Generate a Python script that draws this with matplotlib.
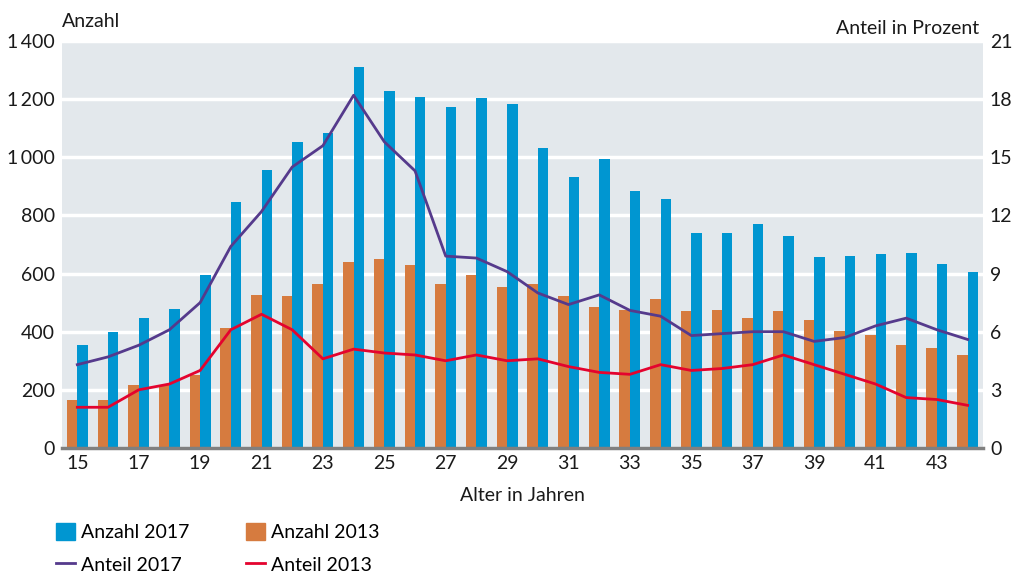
import matplotlib
matplotlib.use("Agg")
import matplotlib.pyplot as plt
from matplotlib.lines import Line2D
from matplotlib.patches import Patch
import numpy as np

plt.rcParams['font.family'] = ['Lato', 'DejaVu Sans']

ages = list(range(15, 45))
anzahl_2017 = [355, 400, 448, 478, 595, 845, 958, 1052, 1082, 1310, 1228, 1207, 1172, 1203, 1183,
               1033, 932, 995, 884, 857, 740, 740, 770, 730, 657, 662, 668, 671, 633, 606]
anzahl_2013 = [165, 165, 217, 215, 251, 414, 527, 523, 565, 640, 650, 630, 565, 595, 555,
               565, 523, 485, 475, 513, 472, 475, 448, 472, 441, 403, 390, 355, 345, 320]
anteil_2017 = [4.3, 4.7, 5.3, 6.1, 7.5, 10.4, 12.2, 14.5, 15.6, 18.2, 15.8, 14.3, 9.9, 9.8, 9.1,
               8.0, 7.4, 7.9, 7.1, 6.8, 5.8, 5.9, 6.0, 6.0, 5.5, 5.7, 6.3, 6.7, 6.1, 5.6]
anteil_2013 = [2.1, 2.1, 3.0, 3.3, 4.0, 6.1, 6.9, 6.1, 4.6, 5.1, 4.9, 4.8, 4.5, 4.8, 4.5,
               4.6, 4.2, 3.9, 3.8, 4.3, 4.0, 4.1, 4.3, 4.8, 4.3, 3.8, 3.3, 2.6, 2.5, 2.2]
x_ticks = list(range(15, 44, 2))
left_ticks = [0, 200, 400, 600, 800, 1000, 1200, 1400]
left_labels = ['0', '200', '400', '600', '800', '1\u2009000', '1\u2009200', '1\u2009400']
right_ticks = [0, 3, 6, 9, 12, 15, 18, 21]

c_blue = '#0096d1'
c_orange = '#d67b3f'
c_purple = '#553a8c'
c_red = '#e4032e'
bg = '#e3e8ec'
tc = '#1a1a1a'
fs = 14

fig = plt.figure(figsize=(10.14, 5.73), dpi=100)
ax = fig.add_axes([0.0611, 0.2182, 0.9083, 0.7102])
ax.set_facecolor(bg)
x = np.array(ages)
w = 0.34
ax.bar(x - w/2, anzahl_2013, width=w, color=c_orange, zorder=2)
ax.bar(x + w/2, anzahl_2017, width=w, color=c_blue, zorder=2)
ax.set_xlim(14.5, 44.5)
ax.set_ylim(0, 1400)
ax.set_yticks(left_ticks)
ax.set_yticklabels(left_labels)
ax.set_xticks(x_ticks)
ax.grid(axis='y', color='white', linewidth=2.5, zorder=1)
ax.set_axisbelow(True)
for s in ['top', 'right', 'left']:
    ax.spines[s].set_visible(False)
ax.spines['bottom'].set_color('#808080')
ax.spines['bottom'].set_linewidth(2.5)
ax.tick_params(length=0, labelsize=fs, colors=tc, pad=5)

ax2 = ax.twinx()
ax2.plot(x, anteil_2017, color=c_purple, linewidth=2, zorder=3)
ax2.plot(x, anteil_2013, color=c_red, linewidth=2, zorder=3)
ax2.set_ylim(0, 21)
ax2.set_yticks(right_ticks)
for s in ['top', 'right', 'left', 'bottom']:
    ax2.spines[s].set_visible(False)
ax2.tick_params(length=0, labelsize=fs, colors=tc, pad=5)

fig.text(0.0611, 0.947, 'Anzahl', fontsize=fs, color=tc, ha='left', va='bottom')
fig.text(0.966, 0.935, 'Anteil in Prozent', fontsize=fs, color=tc, ha='right', va='bottom')
fig.text(0.515, 0.136, 'Alter in Jahren', fontsize=fs, color=tc, ha='center', va='center')

handles = [Patch(color=c_blue), Line2D([], [], color=c_purple, lw=2),
           Patch(color=c_orange), Line2D([], [], color=c_red, lw=2)]
labels = ['Anzahl 2017', 'Anteil 2017', 'Anzahl 2013', 'Anteil 2013']
fig.legend(handles, labels, ncol=2, loc='upper left', bbox_to_anchor=(0.055, 0.088),
           frameon=False, fontsize=fs, handlelength=1.0, handleheight=1.0,
           handletextpad=0.3, columnspacing=2.9, labelspacing=0.75, borderaxespad=0,
           borderpad=0)

fig.savefig('out.png', dpi=100)
